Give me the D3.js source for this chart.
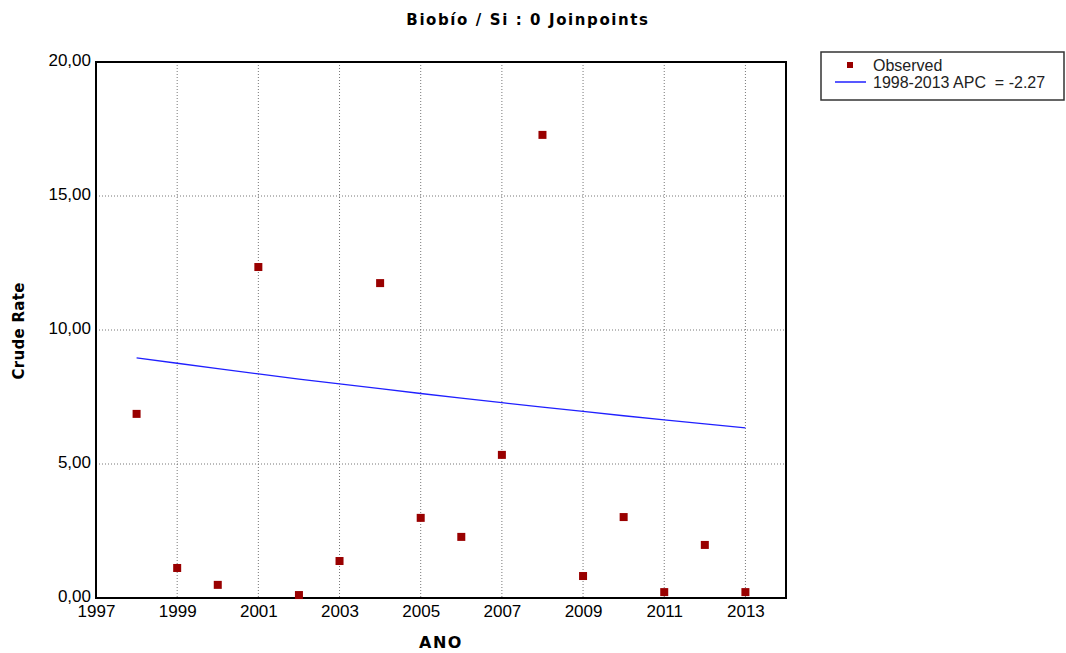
<!DOCTYPE html>
<html>
<head>
<meta charset="utf-8">
<script src="https://cdn.jsdelivr.net/npm/d3@7"></script>
<style>
  body { margin: 0; background: #fff; }
  svg { display: block; }
</style>
</head>
<body>
<div id="chart"></div>
<script>
var w = 1066, h = 653;
var margin = {top: 62, right: 280, bottom: 55, left: 96};

// data
var years = [1998, 1999, 2000, 2001, 2002, 2003, 2004, 2005, 2006, 2007, 2008, 2009, 2010, 2011, 2012, 2013];
var observed = [6.87, 1.12, 0.49, 12.35, 0.11, 1.38, 11.75, 2.99, 2.28, 5.34, 17.28, 0.82, 3.02, 0.22, 1.98, 0.22];
var modeled = [8.96, 8.76, 8.56, 8.36, 8.17, 7.99, 7.81, 7.63, 7.46, 7.29, 7.12, 6.96, 6.80, 6.65, 6.50, 6.35];
var xTicks = [1997, 1999, 2001, 2003, 2005, 2007, 2009, 2011, 2013];
var yTicks = [0, 5, 10, 15, 20];
var legendLabels = ["Observed", "1998-2013 APC  = -2.27"];

var svg = d3.select("#chart").append("svg")
  .attr("width", w)
  .attr("height", h);

var x = d3.scaleLinear().domain([1997, 2014]).range([margin.left, 786]);
var y = d3.scaleLinear().domain([0, 20]).range([598, margin.top]);

var labelFont = "'Liberation Sans', Arial, sans-serif";
var boldFont = "'DejaVu Sans', Verdana, sans-serif";

// grid
svg.append("g").selectAll("line")
  .data(xTicks.slice(1))
  .enter().append("line")
  .attr("x1", function(d){ return x(d); })
  .attr("x2", function(d){ return x(d); })
  .attr("y1", y(20))
  .attr("y2", y(0))
  .attr("stroke", "#777")
  .attr("stroke-width", 1)
  .attr("stroke-dasharray", "1,2");

svg.append("g").selectAll("line")
  .data(yTicks.slice(1, -1))
  .enter().append("line")
  .attr("x1", x(1997))
  .attr("x2", x(2014))
  .attr("y1", function(d){ return y(d); })
  .attr("y2", function(d){ return y(d); })
  .attr("stroke", "#777")
  .attr("stroke-width", 1)
  .attr("stroke-dasharray", "1,2");

// axes
var fmt = function(d){ return d3.format(".2f")(d).replace(".", ","); };

var yAxis = svg.append("g")
  .attr("transform", "translate(" + (margin.left - 2) + ",0)")
  .call(d3.axisLeft(y).tickValues(yTicks).tickSize(0).tickPadding(3).tickFormat(fmt));

var xAxis = svg.append("g")
  .attr("transform", "translate(0,598)")
  .call(d3.axisBottom(x).tickValues(xTicks).tickSize(0).tickPadding(5).tickFormat(d3.format("d")));

[xAxis, yAxis].forEach(function(a){
  a.select(".domain").remove();
  a.selectAll("text")
    .style("font-family", labelFont)
    .style("font-size", "17px")
    .attr("fill", "#000");
});
yAxis.selectAll("text").attr("dy", "0.2em");
xAxis.selectAll("text").attr("dy", "0.85em");

// plot frame
svg.append("rect")
  .attr("x", x(1997))
  .attr("y", y(20))
  .attr("width", x(2014) - x(1997))
  .attr("height", y(0) - y(20))
  .attr("fill", "none")
  .attr("stroke", "#000")
  .attr("stroke-width", 2);

// fitted line
var line = d3.line()
  .x(function(d, i){ return x(years[i]); })
  .y(function(d){ return y(d); });

svg.append("path")
  .datum(modeled)
  .attr("d", line)
  .attr("fill", "none")
  .attr("stroke", "#2020ff")
  .attr("stroke-width", 1.3);

// observed points
svg.append("g").selectAll("rect")
  .data(observed)
  .enter().append("rect")
  .attr("x", function(d, i){ return x(years[i]) - 4; })
  .attr("y", function(d){ return y(d) - 4; })
  .attr("width", 8)
  .attr("height", 8)
  .attr("fill", "#990000");

// titles
svg.append("text")
  .attr("x", 528)
  .attr("y", 25)
  .attr("text-anchor", "middle")
  .style("font-family", boldFont)
  .style("font-weight", "bold")
  .style("font-size", "15px")
  .style("letter-spacing", "1.6px")
  .text("Biobío / Si : 0 Joinpoints");

svg.append("text")
  .attr("x", 441)
  .attr("y", 648)
  .attr("text-anchor", "middle")
  .style("font-family", boldFont)
  .style("font-weight", "bold")
  .style("font-size", "16px")
  .style("letter-spacing", "1.5px")
  .text("ANO");

svg.append("text")
  .attr("transform", "translate(24,331) rotate(-90)")
  .attr("text-anchor", "middle")
  .style("font-family", boldFont)
  .style("font-weight", "bold")
  .style("font-size", "15px")
  .style("letter-spacing", "0.3px")
  .text("Crude Rate");

// legend
var legend = svg.append("g");
legend.append("rect")
  .attr("x", 821)
  .attr("y", 52)
  .attr("width", 243)
  .attr("height", 48)
  .attr("fill", "#fff")
  .attr("stroke", "#333")
  .attr("stroke-width", 1.5);

legend.append("rect")
  .attr("x", 847)
  .attr("y", 62)
  .attr("width", 6)
  .attr("height", 6)
  .attr("fill", "#990000");

legend.append("line")
  .attr("x1", 835)
  .attr("x2", 866)
  .attr("y1", 82)
  .attr("y2", 82)
  .attr("stroke", "#2020ff")
  .attr("stroke-width", 1.5);

legend.selectAll(".lab")
  .data(legendLabels)
  .enter().append("text")
  .attr("class", "lab")
  .attr("x", 873)
  .attr("y", function(d, i){ return 71 + i * 17; })
  .style("font-family", labelFont)
  .style("font-size", "16px")
  .style("white-space", "pre")
  .attr("fill", "#222")
  .text(function(d){ return d; });
</script>
</body>
</html>
